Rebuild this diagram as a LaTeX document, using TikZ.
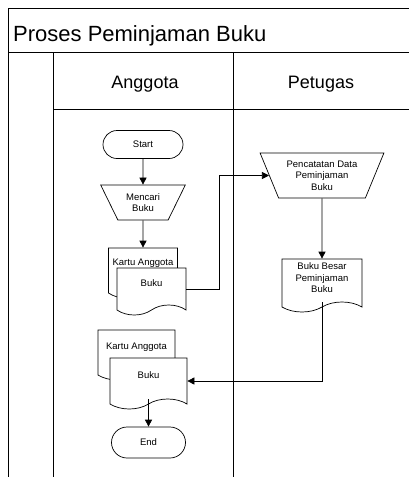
\documentclass[tikz,border=0pt]{standalone}
\usepackage{fontspec}
\setmainfont{Liberation Sans}
\usetikzlibrary{shapes.geometric,shapes.misc,shapes.symbols,arrows.meta,calc}
\begin{document}
\begin{tikzpicture}[x=1pt,y=-1pt,
  frame/.style={line width=0.8pt},
  small/.style={font=\fontsize{9.5}{11.5}\selectfont, align=center},
  term/.style={rounded rectangle, draw, line width=0.7pt, fill=white, small, inner sep=0pt},
  manop/.style={trapezium, shape border rotate=180, trapezium stretches=true, draw, line width=0.7pt, small, inner sep=0pt},
  docu/.style={tape, tape bend top=none, tape bend bottom=in and out, tape bend height=10pt, draw, fill=white, line width=0.7pt, inner sep=0pt},
  doctext/.style={small, inner sep=0pt},
  flow/.style={line width=0.7pt, -{Triangle[length=7pt,width=7pt]}},
]
\useasboundingbox (0,0) rectangle (409,477);
% frame
\draw[frame] (8,477) -- (8,8) -- (409,8);
\draw[frame] (8,52) -- (409,52);
\draw[frame] (53,52) -- (53,477);
\draw[frame] (233,52) -- (233,477);
\draw[frame] (53,109) -- (409,109);
\node[anchor=base west, font=\fontsize{22}{26}\selectfont, inner sep=0pt] (title) at (13,41.5) {Proses Peminjaman Buku};
\node[anchor=base, font=\fontsize{18}{22}\selectfont, inner sep=0pt] (lane1) at (145,88) {Anggota};
\node[anchor=base, font=\fontsize{18}{22}\selectfont, inner sep=0pt] (lane2) at (321,88) {Petugas};
% nodes
\node[term, minimum width=80pt, minimum height=28pt] (start) at (143,144.5) {Start};
\node[manop, trapezium left angle=58, trapezium right angle=58, minimum width=85pt, minimum height=35pt] (mencari) at (143,202.5) {Mencari\\Buku};
\node[docu, minimum width=69pt, minimum height=50pt, label={[doctext,name=kartu1t,yshift=5pt]center:Kartu Anggota}] (kartu1) at (143,268) {};
\node[docu, minimum width=69pt, minimum height=47pt, label={[doctext,name=buku1t,yshift=3.5pt]center:Buku}] (buku1) at (151.5,286.5) {};
\node[manop, trapezium left angle=63, trapezium right angle=63, minimum width=124pt, minimum height=45pt] (pencatatan) at (322,175.5) {Pencatatan Data\\Peminjaman\\Buku};
\node[docu, minimum width=80pt, minimum height=53pt, label={[doctext,name=besart,yshift=2.5pt]center:Buku Besar\\Peminjaman\\Buku}] (besar) at (322,280.5) {};
\node[docu, minimum width=77pt, minimum height=50pt, label={[doctext,name=kartu2t,yshift=3pt]center:Kartu Anggota}] (kartu2) at (136.5,350) {};
\node[docu, minimum width=77pt, minimum height=51pt, label={[doctext,name=buku2t,yshift=3.5pt]center:Buku}] (buku2) at (148.5,378.5) {};
\node[term, minimum width=74pt, minimum height=31pt] (end) at (148.5,442.5) {End};
% connectors
\draw[flow] (start.south) -- (mencari.north);
\draw[flow] (mencari.south) -- (kartu1.north);
\draw[flow] ($(buku1.east)+(0,2.5)$) -- ++(33,0) |- (pencatatan.180);
\draw[flow] (pencatatan.south) -- (besar.north);
\draw[flow] (besar.south) |- ($(buku2.east)+(0,2.5)$);
\draw[flow] (buku2.south) -- (end.north);
\end{tikzpicture}
\end{document}
